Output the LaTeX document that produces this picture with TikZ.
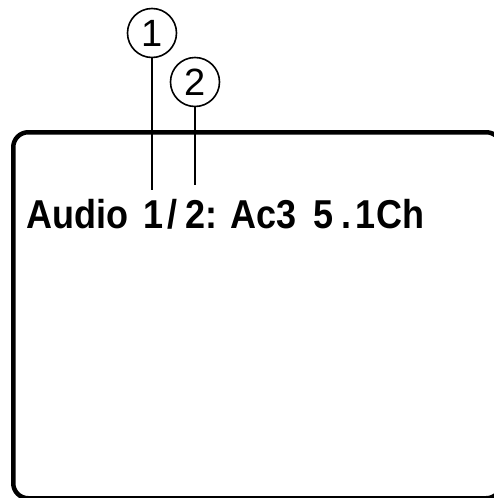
\documentclass[tikz,border=0pt]{standalone}
\usepackage{fontspec}
\setmainfont{Liberation Sans}
\begin{document}
\begin{tikzpicture}[
    x=1pt, y=-1pt,
    % Moldura da tela
    tela/.style={
        draw, line width=4.5pt, rounded corners=15pt,
        minimum width=488pt, minimum height=366pt,
        inner sep=0pt, anchor=north west
    },
    % Números em círculo
    circ/.style={
        draw, circle, line width=1.6pt, minimum size=49pt,
        inner sep=0pt, font=\fontsize{38}{40}\selectfont
    },
    % Texto do visor
    visor/.style={
        anchor=base west, inner sep=0pt,
        font=\bfseries\fontsize{36}{40}\selectfont
    },
    linha/.style={draw, line width=1.6pt}
]
\useasboundingbox (0,0) rectangle (494,498);

% ---- TELA ----
\node[tela] (moldura) at (11,130) {};

% ---- TEXTO ----
\node[visor] (txt) at (26,228)
    {\scalebox{1}[1.12]{Audio \kern5pt1\kern4pt/\kern8pt2: Ac3 \kern7pt5\kern8pt.\kern4pt1\kern1pt Ch}};

% ---- MARCADORES ----
\node[circ] (c1) at (152,33) {1};
\node[circ] (c2) at (195,82) {2};

\coordinate (p1) at (152,190);
\coordinate (p2) at (195,185);
\draw[linha] (c1.south) -- (p1);
\draw[linha] (c2.south) -- (p2);

\end{tikzpicture}
\end{document}
